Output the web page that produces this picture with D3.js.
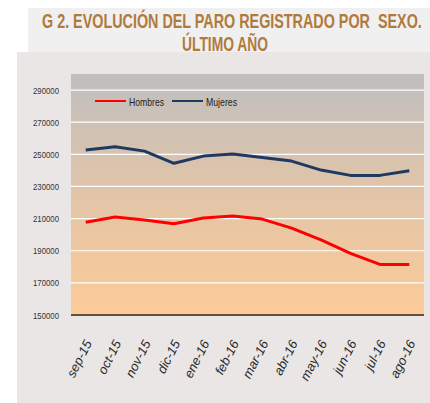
<!DOCTYPE html>
<html>
<head>
<meta charset="utf-8">
<script src="https://cdn.jsdelivr.net/npm/d3@7"></script>
<style>
  body { margin: 0; background: #fff; }
  svg { display: block; }
</style>
</head>
<body>
<script>
const meses = ['sep-15', 'oct-15', 'nov-15', 'dic-15', 'ene-16', 'feb-16', 'mar-16', 'abr-16', 'may-16', 'jun-16', 'jul-16', 'ago-16'];
const hombres = [207700, 211000, 209100, 206800, 210400, 211600, 209700, 204100, 196700, 188400, 181500, 181500];
const mujeres = [252700, 254700, 252000, 244400, 248900, 250200, 248100, 245800, 240200, 236900, 236900, 239800];
const yTicks = [150000, 170000, 190000, 210000, 230000, 250000, 270000, 290000];

const W = 430, H = 403;
const sans = '"Liberation Sans", Arial, sans-serif';

const svg = d3.select('body').append('svg')
    .attr('width', W)
    .attr('height', H);

// backgrounds
svg.append('rect').attr('x', 17).attr('y', 52).attr('width', W - 17).attr('height', H - 52).attr('fill', '#ebe6e6');
svg.append('rect').attr('x', 28).attr('y', 8).attr('width', W - 28).attr('height', 44).attr('fill', '#f0f0f0');

// title, squeezed horizontally to the width of the original
function titleLine(txt, x0, y0, width) {
    const t = svg.append('text')
        .style('font-family', sans)
        .style('font-weight', 'bold')
        .style('font-size', '20.5px')
        .style('white-space', 'pre')
        .attr('fill', '#b07a3c')
        .text(txt);
    const k = width / t.node().getComputedTextLength();
    t.attr('transform', `translate(${x0},${y0}) scale(${k},1)`);
}
titleLine('G 2. EVOLUCIÓN DEL PARO REGISTRADO POR  SEXO.', 42, 28, 380);
titleLine('ÚLTIMO AÑO', 182, 51, 86);

const margin = {left: 71, right: 6, top: 74, bottom: 88};

const x = d3.scalePoint()
    .domain(meses)
    .range([margin.left, W - margin.right])
    .padding(0.5);

const y = d3.scaleLinear()
    .domain([150000, 300000])
    .range([315, margin.top]);

// gradient plot area
const grad = svg.append('defs').append('linearGradient')
    .attr('id', 'bg').attr('x1', 0).attr('y1', 0).attr('x2', 0).attr('y2', 1);
grad.append('stop').attr('offset', '0%').attr('stop-color', '#bfbfbf');
grad.append('stop').attr('offset', '45%').attr('stop-color', '#dfc4aa');
grad.append('stop').attr('offset', '100%').attr('stop-color', '#fdcb97');

svg.append('rect')
    .attr('x', margin.left).attr('y', y(300000))
    .attr('width', W - margin.right - margin.left)
    .attr('height', y(150000) - y(300000))
    .attr('fill', 'url(#bg)');

// grid
svg.append('g')
    .selectAll('line')
    .data(yTicks.slice(1))
    .enter().append('line')
    .attr('x1', margin.left).attr('x2', W - margin.right)
    .attr('y1', d => y(d)).attr('y2', d => y(d))
    .attr('stroke', '#fff').attr('stroke-width', 1.2);

// y axis labels
const yAxis = svg.append('g')
    .attr('transform', `translate(${margin.left},0)`)
    .call(d3.axisLeft(y).tickValues(yTicks).tickSize(0).tickPadding(12).tickFormat(d3.format('d')));
yAxis.select('.domain').remove();
yAxis.selectAll('text')
    .style('font-family', sans)
    .style('font-size', '9.5px')
    .attr('textLength', 26).attr('lengthAdjust', 'spacingAndGlyphs')
    .attr('fill', '#333');

// x axis
const xAxis = svg.append('g')
    .attr('transform', `translate(0,${y(150000)})`)
    .call(d3.axisBottom(x).tickSize(0).tickPadding(0));
xAxis.select('.domain')
    .attr('d', `M${margin.left},0H${W - margin.right}`)
    .attr('stroke', '#2a2420').attr('stroke-width', 1.6);
xAxis.selectAll('text')
    .attr('text-anchor', 'end')
    .attr('dy', 0)
    .attr('transform', 'translate(6,28) rotate(-63)')
    .style('font-family', sans)
    .style('font-style', 'italic')
    .style('font-size', '13px')
    .attr('fill', '#2a2a2a');

// lines
const line = d3.line()
    .x((d, i) => x(meses[i]))
    .y(d => y(d));

svg.append('path').datum(mujeres)
    .attr('d', line).attr('fill', 'none')
    .attr('stroke', '#1f3a62').attr('stroke-width', 3).attr('stroke-linejoin', 'round');
svg.append('path').datum(hombres)
    .attr('d', line).attr('fill', 'none')
    .attr('stroke', '#ff0000').attr('stroke-width', 3).attr('stroke-linejoin', 'round');

// legend
const legend = [
    {name: 'Hombres', color: '#ff0000', x: 95, w: 35},
    {name: 'Mujeres', color: '#1f3a62', x: 172, w: 31}
];
const lg = svg.append('g').selectAll('g').data(legend).enter().append('g');
lg.append('line')
    .attr('x1', d => d.x).attr('x2', d => d.x + 31)
    .attr('y1', 101).attr('y2', 101)
    .attr('stroke', d => d.color).attr('stroke-width', 2);
lg.append('text')
    .attr('x', d => d.x + 34).attr('y', 105.5)
    .style('font-family', sans)
    .style('font-size', '11.5px')
    .attr('textLength', d => d.w).attr('lengthAdjust', 'spacingAndGlyphs')
    .attr('fill', '#222')
    .text(d => d.name);
</script>
</body>
</html>
